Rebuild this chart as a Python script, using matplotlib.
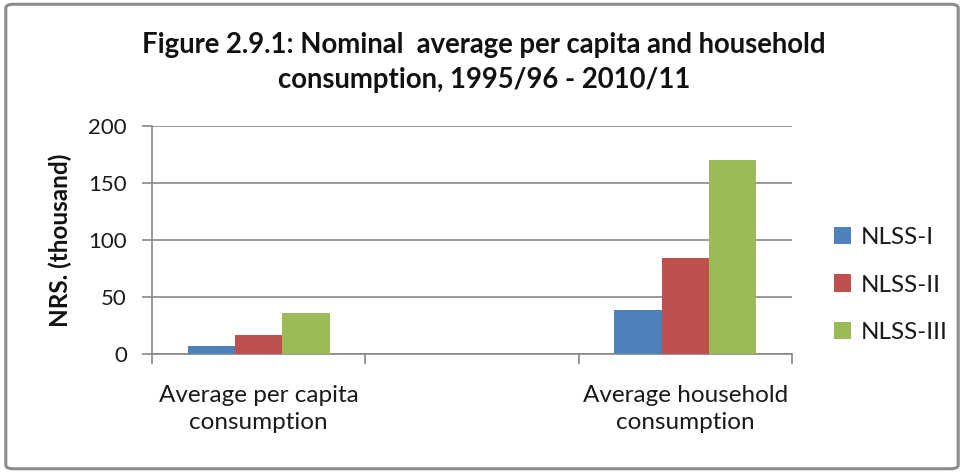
import numpy as np
import matplotlib
matplotlib.use("Agg")
import matplotlib.pyplot as plt
from matplotlib.patches import FancyBboxPatch

plt.rcParams["font.family"] = ["Lato", "DejaVu Sans"]

# data
categories = ["Average per capita\nconsumption", "", "Average household\nconsumption"]
series = ["NLSS-I", "NLSS-II", "NLSS-III"]
nlss1 = [7.3, np.nan, 38.9]
nlss2 = [16.4, np.nan, 84.3]
nlss3 = [35.7, np.nan, 169.8]
colors = ["#4F81BD", "#C0504D", "#9BBB59"]
yticks = [0, 50, 100, 150, 200]

fig = plt.figure(figsize=(9.64, 4.73), dpi=100)
ax = fig.add_axes([152 / 964, 1 - 354 / 473, (792 - 152) / 964, (354 - 126) / 473])

x = np.arange(len(categories))
w = 0.222
for i, (vals, name) in enumerate(zip([nlss1, nlss2, nlss3], series)):
    ax.bar(x + (i - 1) * w, vals, width=w, color=colors[i], label=name, zorder=3)

grid_c = "#878787"
ax.set_ylim(0, 200)
ax.set_xlim(-0.5, len(categories) - 0.5)
ax.set_yticks(yticks)
ax.yaxis.grid(True, color=grid_c, linewidth=1.2, zorder=0)
for s in ["top", "right"]:
    ax.spines[s].set_visible(False)
for s in ["left", "bottom"]:
    ax.spines[s].set_color(grid_c)
    ax.spines[s].set_linewidth(1.2)

ax.tick_params(axis="y", direction="out", length=7, width=1.2, color=grid_c,
               labelsize=16, pad=11, labelcolor="#1a1a1a")
ax.set_xticks(x)
ax.set_xticklabels(categories, fontsize=17.5, color="#1a1a1a", linespacing=1.4)
ax.set_xticks(np.arange(len(categories) + 1) - 0.5, minor=True)
ax.tick_params(axis="x", which="major", length=0, pad=22)
ax.tick_params(axis="x", which="minor", direction="out", length=7, width=1.2, color=grid_c)

ax.set_ylabel("NRS. (thousand)", fontsize=17.5, fontweight="bold", labelpad=12, color="#111111")

fig.text(0.502, 0.868, "Figure 2.9.1: Nominal  average per capita and household\nconsumption, 1995/96 - 2010/11",
         ha="center", va="center", fontsize=19.8, fontweight="bold", linespacing=1.45, color="#111111")

leg = ax.legend(loc="center left", bbox_to_anchor=(812 / 964, 1 - 285 / 473),
                bbox_transform=fig.transFigure, frameon=False, fontsize=17.5,
                handlelength=0.7, handleheight=0.7, handletextpad=0.4, labelspacing=1.1)
for t in leg.get_texts():
    t.set_color("#1a1a1a")

border = FancyBboxPatch((0.006, 0.009), 0.988, 0.982, boxstyle="round,pad=0,rounding_size=0.008",
                        transform=fig.transFigure, facecolor="none", edgecolor="#8c8c8c", linewidth=2.2)
fig.patches.append(border)

fig.savefig("out.png", dpi=100)
